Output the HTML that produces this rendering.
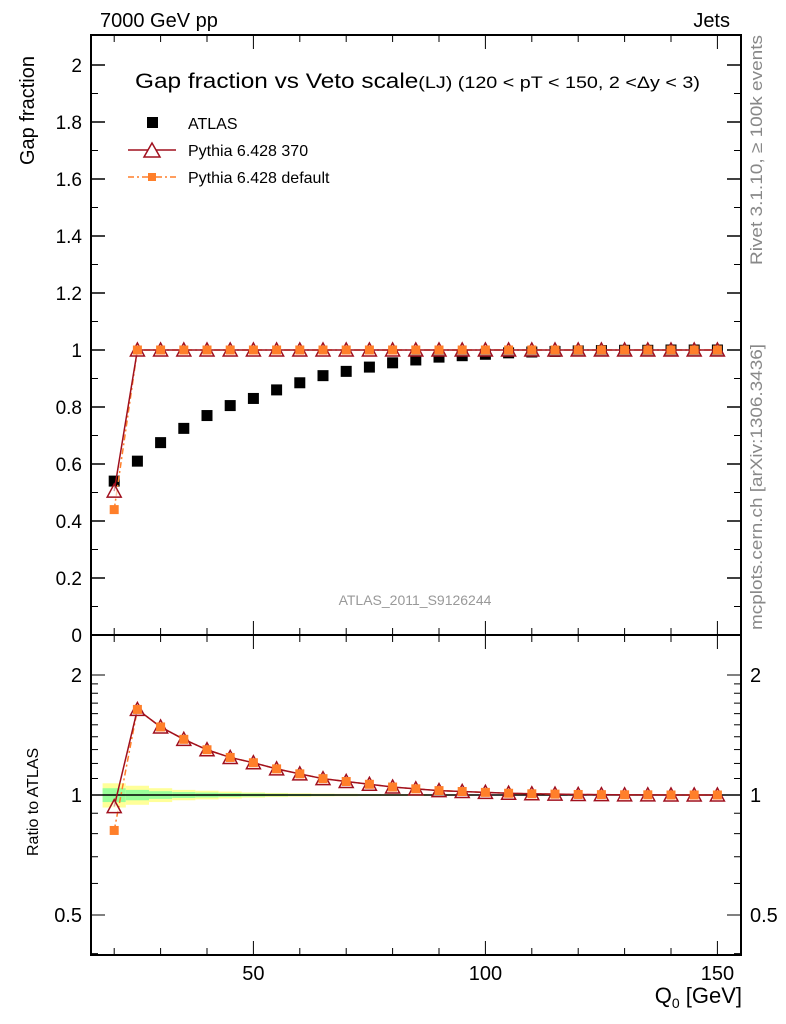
<!DOCTYPE html>
<html><head><meta charset="utf-8">
<style>
body{margin:0;background:#fff;}
svg{display:block;font-family:"Liberation Sans",sans-serif;}
</style></head>
<body>
<svg id="chart" width="786" height="1024" viewBox="0 0 786 1024" xmlns="http://www.w3.org/2000/svg">
<rect width="786" height="1024" fill="#fff"/>
<g id="bands"></g>
<g id="grid"></g>
<g id="marks"></g>
<rect x="91" y="35" width="650" height="600" fill="none" stroke="#000" stroke-width="2"/>
<rect x="91" y="635" width="650" height="320" fill="none" stroke="#000" stroke-width="2"/>
<text x="100" y="27" font-size="20">7000 GeV pp</text>
<text x="730" y="27" font-size="20" text-anchor="end">Jets</text>
<text x="135" y="88" font-size="21" textLength="565" lengthAdjust="spacingAndGlyphs">Gap fraction vs Veto scale<tspan font-size="17">(LJ) (120 &lt; pT &lt; 150, 2 &lt;Δy &lt; 3)</tspan></text>
<text transform="translate(34,165) rotate(-90)" font-size="20">Gap fraction</text>
<text transform="translate(38,856) rotate(-90)" font-size="16">Ratio to ATLAS</text>
<text x="742" y="1003" font-size="22" text-anchor="end">Q<tspan font-size="14" dy="5">0</tspan><tspan dy="-5"> [GeV]</tspan></text>
<text transform="translate(762,265) rotate(-90)" font-size="17" fill="#888" textLength="230" lengthAdjust="spacingAndGlyphs">Rivet 3.1.10, ≥ 100k events</text>
<text transform="translate(762,630) rotate(-90)" font-size="17" fill="#888" textLength="286" lengthAdjust="spacingAndGlyphs">mcplots.cern.ch [arXiv:1306.3436]</text>
<text x="415" y="605" font-size="14" fill="#999" text-anchor="middle">ATLAS_2011_S9126244</text>
<g>
<rect x="147" y="117" width="11" height="11" fill="#000"/>
<text x="188" y="129" font-size="16">ATLAS</text>
<line x1="128" y1="150" x2="176" y2="150" stroke="#a0101e" stroke-width="1.5"/>
<polygon points="152,143 160,157 144,157" fill="#fff" stroke="#a0101e" stroke-width="1.5"/>
<text x="188" y="156" font-size="16">Pythia 6.428 370</text>
<line x1="128" y1="177" x2="176" y2="177" stroke="#ff7f2a" stroke-width="1.5" stroke-dasharray="6,3,2,3"/>
<rect x="148" y="173" width="8" height="8" fill="#ff7f2a"/>
<text x="188" y="183" font-size="16">Pythia 6.428 default</text>
</g>
</svg>
<script>
const xs=[20,25,30,35,40,45,50,55,60,65,70,75,80,85,90,95,100,105,110,115,120,125,130,135,140,145,150];
const atlas=[0.54,0.61,0.675,0.725,0.77,0.805,0.83,0.86,0.885,0.91,0.925,0.94,0.955,0.965,0.975,0.98,0.985,0.99,0.993,0.995,0.997,0.998,0.999,0.999,1.0,1.0,1.0];
const py370=[0.505,1,1,1,1,1,1,1,1,1,1,1,1,1,1,1,1,1,1,1,1,1,1,1,1,1,1];
const pydef=[0.44,1,1,1,1,1,1,1,1,1,1,1,1,1,1,1,1,1,1,1,1,1,1,1,1,1,1];
const bandYellow=[0.07,0.055,0.04,0.03,0.025,0.02,0.015,0.012,0.01,0.008,0.007,0.006,0.005,0.005,0.004,0.004,0.003,0.003,0.003,0.003,0.002,0.002,0.002,0.002,0.002,0.002,0.002];
const bandGreen=[0.04,0.03,0.022,0.017,0.014,0.011,0.009,0.007,0.006,0.005,0.004,0.004,0.003,0.003,0.003,0.002,0.002,0.002,0.002,0.002,0.001,0.001,0.001,0.001,0.001,0.001,0.001];
const mainTicks=[0,0.2,0.4,0.6,0.8,1,1.2,1.4,1.6,1.8,2];
const mainTickLabels=["0","0.2","0.4","0.6","0.8","1","1.2","1.4","1.6","1.8","2"];
const xTicks=[50,100,150];
const ratioTicks=[0.5,1,2];

const NS="http://www.w3.org/2000/svg";
const X=v=>91+(v-15)*4.64;
const Y=v=>635-v*285;
const R=v=>795-Math.log2(v)*120;
function mk(tag,attrs,parent){const e=document.createElementNS(NS,tag);for(const k in attrs)e.setAttribute(k,attrs[k]);document.getElementById(parent).appendChild(e);return e;}

xs.forEach((x,i)=>{
 let e=mk('rect',{x:X(x-2.5),y:R(1+bandYellow[i]),width:X(x+2.5)-X(x-2.5),height:R(1-bandYellow[i])-R(1+bandYellow[i]),fill:'#ffff99'},'bands');
 
 
 e=mk('rect',{x:X(x-2.5),y:R(1+bandGreen[i]),width:X(x+2.5)-X(x-2.5),height:R(1-bandGreen[i])-R(1+bandGreen[i]),fill:'#99ff99'},'bands');
 
 
});
let l=mk('line',{x1:91,x2:741,y1:R(1),y2:R(1),stroke:'#000','stroke-width':1.5},'bands');



mainTicks.forEach((t,i)=>{
 mk('line',{x1:91,x2:105,y1:Y(t),y2:Y(t),stroke:'#000','stroke-width':1.5},'grid');
 mk('line',{x1:741,x2:727,y1:Y(t),y2:Y(t),stroke:'#000','stroke-width':1.5},'grid');
 if(i<mainTicks.length-1){const m=(t+mainTicks[i+1])/2;
  mk('line',{x1:91,x2:98,y1:Y(m),y2:Y(m),stroke:'#000'},'grid');
  mk('line',{x1:741,x2:734,y1:Y(m),y2:Y(m),stroke:'#000'},'grid');}
 const tx=mk('text',{x:82,y:Y(t)+7,'font-size':19,'text-anchor':'end'},'grid');
 tx.textContent=mainTickLabels[i];
 
 
});
for(let v=20;v<=150;v+=10){
 const big=v%50===0, len=big?14:7;
 mk('line',{x1:X(v),x2:X(v),y1:635,y2:635-len,stroke:'#000'},'grid');
 mk('line',{x1:X(v),x2:X(v),y1:35,y2:35+len,stroke:'#000'},'grid');
 mk('line',{x1:X(v),x2:X(v),y1:955,y2:955-len,stroke:'#000'},'grid');
 mk('line',{x1:X(v),x2:X(v),y1:635,y2:635+len,stroke:'#000'},'grid');
}
xTicks.forEach(v=>{
 const tx=mk('text',{x:X(v),y:980,'font-size':20,'text-anchor':'middle'},'grid');
 tx.textContent=v;
 
 
});
[0.4,0.5,0.6,0.7,0.8,0.9,1,2].forEach(v=>{
 const big=ratioTicks.includes(v),len=big?14:7;
 mk('line',{x1:91,x2:91+len,y1:R(v),y2:R(v),stroke:'#000'},'grid');
 mk('line',{x1:741,x2:741-len,y1:R(v),y2:R(v),stroke:'#000'},'grid');
});
for(let v=1.1;v<2;v+=0.1){mk('line',{x1:91,x2:98,y1:R(v),y2:R(v),stroke:'#000'},'grid');mk('line',{x1:741,x2:734,y1:R(v),y2:R(v),stroke:'#000'},'grid');}
ratioTicks.forEach(v=>{
 const a=mk('text',{x:82,y:R(v)+7,'font-size':20,'text-anchor':'end'},'grid');a.textContent=v;
 
 
 const b=mk('text',{x:750,y:R(v)+7,'font-size':20},'grid');b.textContent=v;
 
 
});

function series(vals,ys,color,dash,name){
 const p=mk('polyline',{points:xs.map((x,i)=>X(x)+','+ys(vals[i])).join(' '),fill:'none',stroke:color,'stroke-width':1.5,'stroke-dasharray':dash},'marks');
 
 
}
function squares(vals,ys,color,s,name){
 xs.forEach((x,i)=>{const r=mk('rect',{x:X(x)-s/2,y:ys(vals[i])-s/2,width:s,height:s,fill:color},'marks');
 
 });
}
function tris(vals,ys,name){
 xs.forEach((x,i)=>{const cx=X(x),cy=ys(vals[i]);
 const t=mk('polygon',{points:`${cx},${cy-7} ${cx+7},${cy+6} ${cx-7},${cy+6}`,fill:'#fff','fill-opacity':0.6,stroke:'#a0101e','stroke-width':1.5},'marks');
 
 });
}
squares(atlas,Y,'#000',11,'atlas');
series(pydef,Y,'#ff7f2a','6,3,2,3','pythia-default');
series(py370,Y,'#a0101e','','pythia-370');
tris(py370,Y,'pythia-370');
squares(pydef,Y,'#ff7f2a',9,'pythia-default');
const r370=py370.map((v,i)=>v/atlas[i]);
const rdef=pydef.map((v,i)=>v/atlas[i]);
series(rdef,R,'#ff7f2a','6,3,2,3','ratio-default');
series(r370,R,'#a0101e','','ratio-370');
tris(r370,R,'ratio-370');
squares(rdef,R,'#ff7f2a',9,'ratio-default');
</script>
</body></html>
